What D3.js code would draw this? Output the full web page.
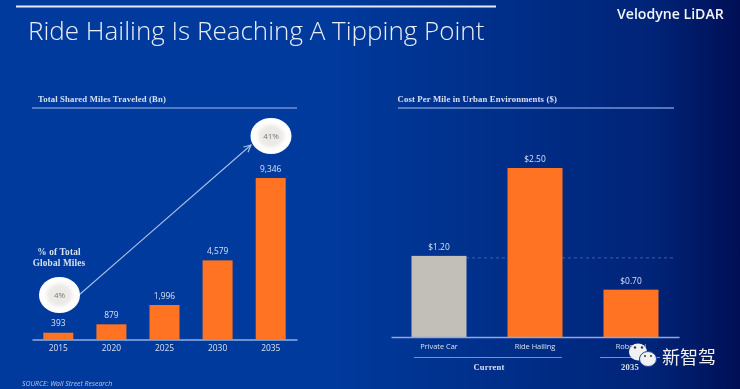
<!DOCTYPE html>
<html>
<head>
<meta charset="utf-8">
<script src="https://cdn.jsdelivr.net/npm/d3@7"></script>
<style>
  html, body { margin: 0; padding: 0; background: #003a9c; }
  svg { display: block; filter: blur(0.35px); }
  text { font-family: "Open Sans", sans-serif; }
  .serif { font-family: "Liberation Serif", serif; font-weight: bold; letter-spacing: 0.15px; }
</style>
</head>
<body>
<div id="chart"></div>
<script>
var years = ["2015", "2020", "2025", "2030", "2035"];
var miles = [393, 879, 1996, 4579, 9346];
var mileLabels = ["393", "879", "1,996", "4,579", "9,346"];
var shares = ["4%", "41%"];

var modes = ["Private Car", "Ride Hailing", "Robotaxi"];
var costs = [1.2, 2.5, 0.7];
var costLabels = ["$1.20", "$2.50", "$0.70"];
var costColors = ["#c2bfb9", "#ff7322", "#ff7322"];

var width = 740, height = 389;
var orange = "#ff7322", rule = "#6f93d6", label = "#d6e0f2";

var svg = d3.select("#chart").append("svg").attr("width", width).attr("height", height);
var defs = svg.append("defs");

var grad = defs.append("linearGradient").attr("id", "bg");
grad.append("stop").attr("offset", "0%").attr("stop-color", "#003a9c");
grad.append("stop").attr("offset", "45%").attr("stop-color", "#003a9c");
grad.append("stop").attr("offset", "88%").attr("stop-color", "#002478");
grad.append("stop").attr("offset", "100%").attr("stop-color", "#000f55");
svg.append("rect").attr("width", width).attr("height", height).attr("fill", "url(#bg)");

var bubbleFill = defs.append("radialGradient").attr("id", "bubble");
bubbleFill.append("stop").attr("offset", "0%").attr("stop-color", "#e9e8e5");
bubbleFill.append("stop").attr("offset", "50%").attr("stop-color", "#ecebe8");
bubbleFill.append("stop").attr("offset", "75%").attr("stop-color", "#fdfdfd");
bubbleFill.append("stop").attr("offset", "100%").attr("stop-color", "#ffffff");

// header
svg.append("line").attr("x1", 16).attr("x2", 496).attr("y1", 6.5).attr("y2", 6.5)
  .attr("stroke", "#e6ecf8").attr("stroke-width", 2);
svg.append("text").attr("x", 28).attr("y", 40).attr("fill", "#e8eefa")
  .attr("font-size", 26).attr("font-weight", 300).text("Ride Hailing Is Reaching A Tipping Point");
svg.append("text").attr("x", 617).attr("y", 18.5).attr("fill", "#f2f5fb")
  .attr("font-size", 14.1).attr("font-weight", 600).text("Velodyne LiDAR");

// left panel
var x1 = d3.scaleBand().domain(years).range([32, 297]).paddingInner(0.435).paddingOuter(0.2127);
var y1 = d3.scaleLinear().domain([0, 9346]).range([339.5, 178]);

svg.append("text").attr("class", "serif").attr("x", 38).attr("y", 102).attr("font-size", 8.7)
  .attr("fill", label).text("Total Shared Miles Traveled (Bn)");
svg.append("line").attr("x1", 32).attr("x2", 297).attr("y1", 108).attr("y2", 108)
  .attr("stroke", rule).attr("stroke-width", 1.5);

svg.append("g").selectAll("rect").data(miles).join("rect")
  .attr("x", function(d, i) { return x1(years[i]); })
  .attr("y", function(d) { return y1(d); })
  .attr("width", x1.bandwidth())
  .attr("height", function(d) { return y1(0) - y1(d); })
  .attr("fill", orange);

svg.append("g").selectAll("text").data(miles).join("text")
  .attr("x", function(d, i) { return x1(years[i]) + x1.bandwidth() / 2; })
  .attr("y", function(d) { return y1(d) - 6.5; })
  .attr("text-anchor", "middle").attr("font-size", 8.4).attr("fill", label)
  .text(function(d, i) { return mileLabels[i]; });

var axis1 = svg.append("g").attr("transform", "translate(0," + y1(0) + ")")
  .call(d3.axisBottom(x1).tickSize(0).tickPadding(6));
axis1.select(".domain").attr("stroke", "#8fb0e6").attr("stroke-width", 1.5);
axis1.selectAll("text").attr("font-size", 8.4).attr("fill", label)
  .style("font-family", '"Open Sans", sans-serif');

svg.append("text").attr("class", "serif").attr("x", 59).attr("y", 255).attr("font-size", 9.3)
  .attr("text-anchor", "middle").attr("fill", label).text("% of Total");
svg.append("text").attr("class", "serif").attr("x", 59).attr("y", 266).attr("font-size", 9.3)
  .attr("text-anchor", "middle").attr("fill", label).text("Global Miles");

// growth arrow between the two share bubbles
defs.append("marker").attr("id", "arrow").attr("viewBox", "0 0 10 10")
  .attr("refX", 9).attr("refY", 5).attr("markerWidth", 8).attr("markerHeight", 8).attr("orient", "auto")
  .append("path").attr("d", "M1,1 L9,5 L1,9").attr("fill", "none").attr("stroke", "#a9c0e8").attr("stroke-width", 1.3);
svg.append("line").attr("x1", 79).attr("y1", 295).attr("x2", 251).attr("y2", 145)
  .attr("stroke", "#a9c0e8").attr("stroke-width", 1.1).attr("marker-end", "url(#arrow)");

var bubbles = svg.append("g").selectAll("g").data(shares).join("g")
  .attr("transform", function(d, i) { return i == 0 ? "translate(59.5,295)" : "translate(271,136)"; });
bubbles.append("ellipse").attr("rx", 20.5).attr("ry", 18).attr("fill", "url(#bubble)");
bubbles.append("text").attr("y", 3).attr("text-anchor", "middle").attr("font-size", 8)
  .attr("fill", "#77787a").text(function(d) { return d; });

// right panel
var x2 = d3.scaleBand().domain(modes).range([391, 679]).paddingInner(0.427).paddingOuter(0.2135);
var y2 = d3.scaleLinear().domain([0, 2.5]).range([337, 168]);

svg.append("text").attr("class", "serif").attr("x", 397.5).attr("y", 102).attr("font-size", 8.7)
  .attr("fill", label).text("Cost Per Mile in Urban Environments ($)");
svg.append("line").attr("x1", 398).attr("x2", 674).attr("y1", 108).attr("y2", 108)
  .attr("stroke", rule).attr("stroke-width", 1.5);

svg.append("line").attr("x1", 466).attr("x2", 676).attr("y1", y2(1.2) + 2).attr("y2", y2(1.2) + 2)
  .attr("stroke", "#4a6eba").attr("stroke-width", 0.8).attr("stroke-dasharray", "3,3");

svg.append("g").selectAll("rect").data(costs).join("rect")
  .attr("x", function(d, i) { return x2(modes[i]); })
  .attr("y", function(d) { return y2(d); })
  .attr("width", x2.bandwidth())
  .attr("height", function(d) { return y2(0) - y2(d); })
  .attr("fill", function(d, i) { return costColors[i]; });

svg.append("g").selectAll("text").data(costs).join("text")
  .attr("x", function(d, i) { return x2(modes[i]) + x2.bandwidth() / 2; })
  .attr("y", function(d) { return y2(d) - 6; })
  .attr("text-anchor", "middle").attr("font-size", 8.4).attr("fill", label)
  .text(function(d, i) { return costLabels[i]; });

var axis2 = svg.append("g").attr("transform", "translate(0," + y2(0) + ")")
  .call(d3.axisBottom(x2).tickSize(0).tickPadding(7));
axis2.select(".domain").attr("stroke", "#8fa9dc").attr("stroke-width", 1.5);
axis2.selectAll("text").attr("font-size", 7.4).attr("fill", label)
  .style("font-family", '"Open Sans", sans-serif');

// group brackets under the right axis
svg.append("line").attr("x1", 414).attr("x2", 562).attr("y1", 357.5).attr("y2", 357.5)
  .attr("stroke", rule).attr("stroke-width", 1);
svg.append("line").attr("x1", 600).attr("x2", 660).attr("y1", 357.5).attr("y2", 357.5)
  .attr("stroke", rule).attr("stroke-width", 1);
svg.append("text").attr("class", "serif").attr("x", 489).attr("y", 370).attr("text-anchor", "middle")
  .attr("font-size", 8.6).attr("fill", label).text("Current");
svg.append("text").attr("class", "serif").attr("x", 630).attr("y", 370).attr("text-anchor", "middle")
  .attr("font-size", 8.6).attr("fill", label).text("2035");

svg.append("text").attr("x", 22).attr("y", 385.5).attr("font-size", 6.9).attr("font-style", "italic")
  .attr("fill", "#b4c6e8").text("SOURCE: Wall Street Research");

// watermark over the bottom right
var wm = svg.append("g");
wm.append("ellipse").attr("cx", 638).attr("cy", 352).attr("rx", 9).attr("ry", 8.5).attr("fill", "#f1f1f1");
wm.append("ellipse").attr("cx", 648).attr("cy", 359).attr("rx", 8.5).attr("ry", 7.5).attr("fill", "#f1f1f1")
  .attr("stroke", "#1c4a9e").attr("stroke-width", 1);
wm.append("circle").attr("cx", 635).attr("cy", 347.5).attr("r", 1.2).attr("fill", "#333");
wm.append("circle").attr("cx", 642).attr("cy", 347.5).attr("r", 1.2).attr("fill", "#333");
wm.append("circle").attr("cx", 645).attr("cy", 356).attr("r", 1).attr("fill", "#333");
wm.append("circle").attr("cx", 651).attr("cy", 356).attr("r", 1).attr("fill", "#333");
wm.append("text").attr("x", 662).attr("y", 363.5).attr("font-size", 18)
  .attr("fill", "#f0f0f0").style("font-family", '"Noto Sans CJK SC"').text("新智驾");
</script>
</body>
</html>
